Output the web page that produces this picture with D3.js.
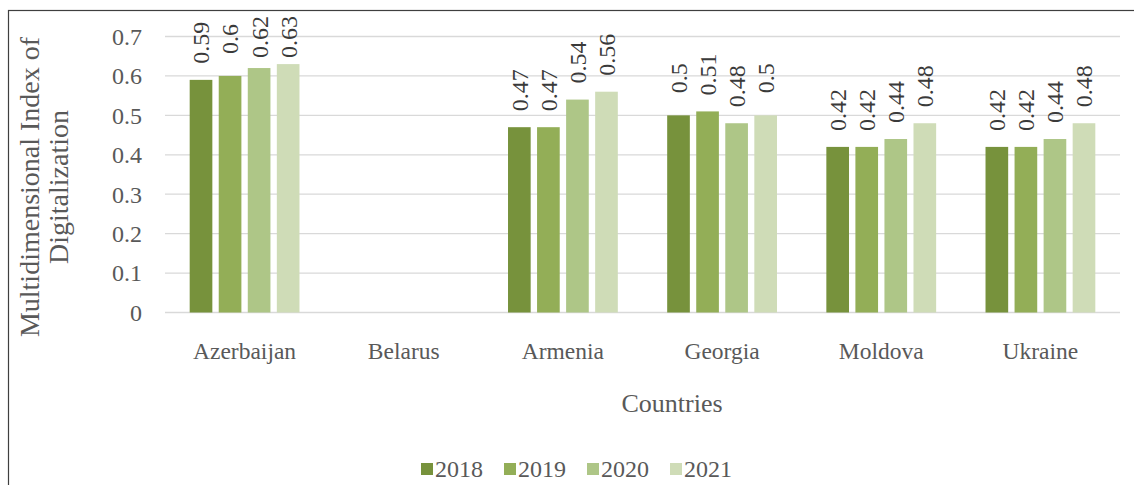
<!DOCTYPE html>
<html>
<head>
<meta charset="utf-8">
<script src="https://cdn.jsdelivr.net/npm/d3@7"></script>
<style>
  html, body { margin: 0; padding: 0; background: #fff; }
  svg { display: block; }
</style>
</head>
<body>
<div id="chart"></div>
<script>
// ---------------------------------------------------------------------------
// Multidimensional Index of Digitalization — grouped bars by country/year
// ---------------------------------------------------------------------------

const countries = ['Azerbaijan', 'Belarus', 'Armenia', 'Georgia', 'Moldova', 'Ukraine'];
const years = ['2018', '2019', '2020', '2021'];
const values2018 = [0.59, null, 0.47, 0.5, 0.42, 0.42];
const values2019 = [0.6, null, 0.47, 0.51, 0.42, 0.42];
const values2020 = [0.62, null, 0.54, 0.48, 0.44, 0.44];
const values2021 = [0.63, null, 0.56, 0.5, 0.48, 0.48];
const yTicks = [0, 0.1, 0.2, 0.3, 0.4, 0.5, 0.6, 0.7];
const colors = ['#77923c', '#93ae57', '#aec687', '#cfdcb7'];

const seriesValues = [values2018, values2019, values2020, values2021];

const width = 1134, height = 485;
const font = 'Liberation Serif';
const textColor = '#595959';

const plot = { left: 165, right: 1120, top: 36.5, bottom: 312.5 };

const svg = d3.select('#chart').append('svg')
  .attr('width', width).attr('height', height)
  .style('font-family', font);

// outer chart frame (runs off the right / bottom edge)
svg.append('rect')
  .attr('x', 8.5).attr('y', 10.5)
  .attr('width', 1200).attr('height', 600)
  .attr('fill', 'none').attr('stroke', '#3f3f3f').attr('stroke-width', 1.2);

const y = d3.scaleLinear().domain([0, 0.7]).range([plot.bottom, plot.top]);
const x0 = d3.scaleBand().domain(countries)
  .range([plot.left, plot.right]).paddingInner(0.27).paddingOuter(0.135);
const x1 = d3.scaleBand().domain(years)
  .range([0, x0.bandwidth()]).paddingInner(0.22).paddingOuter(0.11);

// gridlines
svg.append('g').selectAll('line')
  .data(yTicks)
  .join('line')
  .attr('x1', plot.left).attr('x2', plot.right)
  .attr('y1', (d) => y(d)).attr('y2', (d) => y(d))
  .attr('stroke', '#d9d9d9').attr('stroke-width', 1.3);

// y tick labels
svg.append('g').selectAll('text')
  .data(yTicks)
  .join('text')
  .attr('x', 142).attr('y', (d) => y(d))
  .attr('dy', '0.35em')
  .attr('text-anchor', 'end')
  .attr('fill', textColor).style('font-size', '24px')
  .text((d) => d3.format('~g')(d));

// bars + labels
const flat = [];
countries.forEach((c, i) => {
  years.forEach((yr, j) => {
    const v = seriesValues[j][i];
    if (v != null) flat.push({ country: c, year: yr, value: v, idx: j });
  });
});

const barG = svg.append('g');
barG.selectAll('rect')
  .data(flat)
  .join('rect')
  .attr('x', (d) => x0(d.country) + x1(d.year))
  .attr('y', (d) => y(d.value))
  .attr('width', x1.bandwidth())
  .attr('height', (d) => y(0) - y(d.value))
  .attr('fill', (d) => colors[d.idx]);

const labels = barG.selectAll('text')
  .data(flat)
  .join('text')
  .attr('text-anchor', 'middle')
  .attr('dy', '0.35em')
  .attr('fill', '#3a3a3a').style('font-size', '24px')
  .text((d) => String(d.value));

// rotated labels sit above the bar, pushed down if they would leave the chart
labels.each(function (d) {
  const len = this.getComputedTextLength();
  const cx = x0(d.country) + x1(d.year) + x1.bandwidth() / 2;
  const cy = Math.max(y(d.value) - 37, 16 + len / 2);
  d3.select(this).attr('transform', `translate(${cx},${cy}) rotate(-90)`);
});

// category labels
svg.append('g').selectAll('text')
  .data(countries)
  .join('text')
  .attr('x', (d) => x0(d) + x0.bandwidth() / 2)
  .attr('y', 359)
  .attr('text-anchor', 'middle')
  .attr('fill', textColor).style('font-size', '23.5px')
  .text((d) => d);

// axis titles
svg.append('text')
  .attr('x', 672).attr('y', 412)
  .attr('text-anchor', 'middle')
  .attr('fill', textColor).style('font-size', '26px')
  .text('Countries');

const yTitle = svg.append('text')
  .attr('transform', 'translate(0,187) rotate(-90)')
  .attr('text-anchor', 'middle')
  .attr('fill', textColor).style('font-size', '28px');
yTitle.append('tspan').attr('x', 0).attr('y', 39).text('Multidimensional Index of');
yTitle.append('tspan').attr('x', 0).attr('y', 68).text('Digitalization');

// legend
const legend = svg.append('g');
years.forEach((yr, j) => {
  const lx = 421 + j * 83;
  legend.append('rect')
    .attr('x', lx).attr('y', 463)
    .attr('width', 12).attr('height', 12)
    .attr('fill', colors[j]);
  legend.append('text')
    .attr('x', lx + 14).attr('y', 477)
    .attr('fill', textColor).style('font-size', '24px')
    .text(yr);
});
</script>
</body>
</html>
